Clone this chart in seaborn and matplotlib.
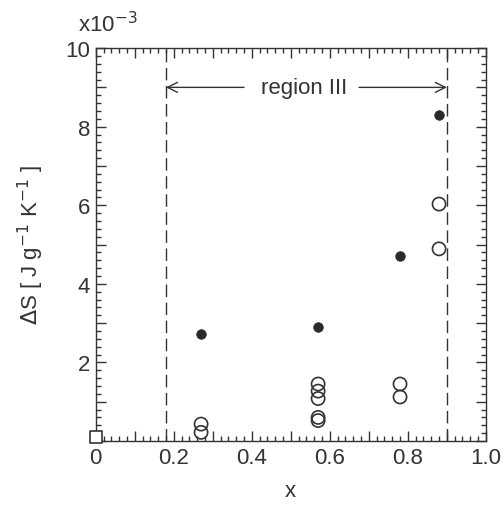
#! /usr/bin/env python3
import matplotlib
matplotlib.use('Agg')
import matplotlib.pyplot as plt
import matplotlib.ticker as ticker
import seaborn as sns
import pandas as pd

# data (y in units of 1e-3 J g^-1 K^-1)
filled_x = [0.27, 0.57, 0.78, 0.88]
filled_y = [2.72, 2.90, 4.70, 8.30]
open_x = [0.27, 0.27, 0.57, 0.57, 0.57, 0.57, 0.57, 0.78, 0.78, 0.88, 0.88]
open_y = [0.43, 0.22, 1.45, 1.27, 1.08, 0.60, 0.52, 1.45, 1.12, 6.03, 4.89]
square_x = [0.0]
square_y = [0.10]
region_bounds = [0.18, 0.90]

sns.set_style('ticks')
plt.rcParams['font.family'] = ['Liberation Sans', 'DejaVu Sans']
ink = '#333333'

fig = plt.figure(figsize=(5.04, 5.06), dpi=100)
ax = fig.add_axes([0.190, 0.1265, 0.774, 0.7765])

df_f = pd.DataFrame({'x': filled_x, 'y': filled_y})
df_o = pd.DataFrame({'x': open_x, 'y': open_y})
df_s = pd.DataFrame({'x': square_x, 'y': square_y})

sns.scatterplot(data=df_o, x='x', y='y', ax=ax, s=90, marker='o',
                facecolor='none', edgecolor=ink, linewidth=1.2, zorder=3)
sns.scatterplot(data=df_f, x='x', y='y', ax=ax, s=48, marker='o',
                color='#2a2a2a', edgecolor='#2a2a2a', linewidth=0.5, zorder=3)
sns.scatterplot(data=df_s, x='x', y='y', ax=ax, s=80, marker='s',
                facecolor='white', edgecolor=ink, linewidth=1.2, zorder=5,
                clip_on=False)

for b in region_bounds:
    ax.axvline(b, color=ink, lw=1.0, ls=(0, (9, 4)), zorder=2)

# region III annotation
ax.text(0.535, 9.0, 'region III', ha='center', va='center', fontsize=16, color=ink)
ax.annotate('', xy=(region_bounds[0], 9.0), xytext=(0.38, 9.0),
            arrowprops=dict(arrowstyle='->', color=ink, lw=1.0,
                            shrinkA=0, shrinkB=0, mutation_scale=18))
ax.annotate('', xy=(region_bounds[1], 9.0), xytext=(0.675, 9.0),
            arrowprops=dict(arrowstyle='->', color=ink, lw=1.0,
                            shrinkA=0, shrinkB=0, mutation_scale=18))

ax.set_xlim(0, 1.0)
ax.set_ylim(0, 10)
ax.xaxis.set_major_locator(ticker.MultipleLocator(0.1))
ax.xaxis.set_minor_locator(ticker.MultipleLocator(0.02))
ax.yaxis.set_major_locator(ticker.MultipleLocator(1))
ax.yaxis.set_minor_locator(ticker.MultipleLocator(0.2))
ax.xaxis.set_major_formatter(ticker.FuncFormatter(
    lambda v, p: ('0' if abs(v) < 1e-9 else f'{v:.1f}') if round(v * 10) % 2 == 0 else ''))
ax.yaxis.set_major_formatter(ticker.FuncFormatter(
    lambda v, p: f'{int(round(v))}' if (round(v) % 2 == 0 and v > 0) else ''))

ax.tick_params(which='both', direction='in', top=True, right=True, colors=ink,
               labelsize=16, width=1.0)
ax.tick_params(which='major', length=7, pad=4)
ax.tick_params(which='minor', length=3.5)
for sp in ax.spines.values():
    sp.set_color(ink)
    sp.set_linewidth(1.0)

ax.set_xlabel('x', fontsize=16, color=ink, labelpad=9)
ax.set_ylabel(r'$\Delta$S [ J g$^{-1}$ K$^{-1}$ ]', fontsize=16, color=ink, labelpad=14)
fig.text(0.155, 0.952, r'x10$^{-3}$', fontsize=16, color=ink, ha='left', va='center')

fig.savefig('out.png', dpi=100)
